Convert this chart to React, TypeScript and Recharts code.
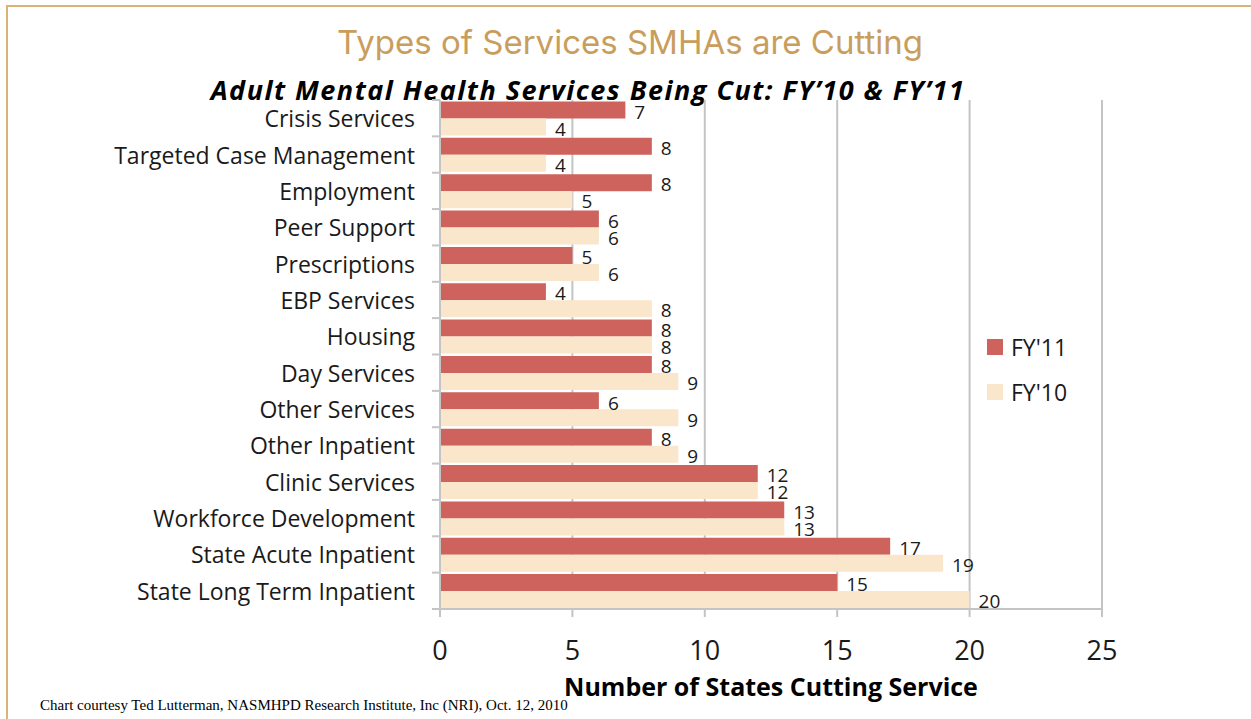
import { BarChart, Bar, XAxis, YAxis, CartesianGrid, LabelList } from 'recharts';

// Adult mental health services being cut, FY'10 vs FY'11 (number of states).
const services = [
  'Crisis Services', 'Targeted Case Management', 'Employment', 'Peer Support', 'Prescriptions',
  'EBP Services', 'Housing', 'Day Services', 'Other Services', 'Other Inpatient',
  'Clinic Services', 'Workforce Development', 'State Acute Inpatient', 'State Long Term Inpatient',
];
const fy11 = [7, 8, 8, 6, 5, 4, 8, 8, 6, 8, 12, 13, 17, 15];
const fy10 = [4, 4, 5, 6, 6, 8, 8, 9, 9, 9, 12, 13, 19, 20];
const xTicks = [0, 5, 10, 15, 20, 25];

const C = { red: '#cd635c', cream: '#f9e6cb', grid: '#c4c4c4', ink: '#1a1a1a', tan: '#c99d5c', frame: '#dcb27a' };
const SANS = "'Open Sans', 'Noto Sans', sans-serif";

const rows = services.map((name, i) => ({ name, fy11: fy11[i], fy10: fy10[i] }));

const MARGIN = 25;

function CatTick(props: any) {
  const { x, y, payload, index } = props;
  const half = payload?.offset ?? 18;
  const ax = x + MARGIN;
  return (
    <g>
      <text x={x} y={y} textAnchor="end" dominantBaseline="central" fill={C.ink} fontSize={23} fontFamily={SANS}>
        {payload.value}
      </text>
      <line x1={ax - 8} x2={ax} y1={y + half} y2={y + half} stroke={C.grid} strokeWidth={2} />
      {index === 0 && <line x1={ax - 8} x2={ax} y1={y - half} y2={y - half} stroke={C.grid} strokeWidth={2} />}
    </g>
  );
}

export default function App() {
  return (
    <div style={{ position: 'absolute', left: 0, top: 0, width: 1251, height: 719, background: '#fff', overflow: 'hidden' }}>
      <div style={{ position: 'absolute', left: 6, top: 5, right: -10, bottom: -10, borderTop: `2px solid ${C.frame}`, borderLeft: `2px solid ${C.frame}` }} />
      <div style={{ position: 'absolute', left: 0, width: 1260, top: 22, textAlign: 'center', fontFamily: "Inter, 'Open Sans', sans-serif", fontSize: 33, color: C.tan }}>
        Types of Services SMHAs are Cutting
      </div>
      <div style={{ position: 'absolute', left: 0, width: 1176, top: 71, textAlign: 'center', fontFamily: SANS, fontSize: 27, fontWeight: 700, fontStyle: 'italic', letterSpacing: 1.5, color: '#000' }}>
        Adult Mental Health Services Being Cut: FY’10 &amp; FY’11
      </div>
      <div style={{ position: 'absolute', left: 0, top: 0 }}>
        <BarChart width={1251} height={719} data={rows} layout="vertical" barGap={0} barCategoryGap="4%"
          margin={{ top: 100, right: 149, bottom: 20, left: 0 }}>
          <CartesianGrid horizontal={false} stroke={C.grid} strokeWidth={2} />
          <XAxis type="number" domain={[0, 25]} ticks={xTicks} interval={0} height={90}
            axisLine={{ stroke: C.grid, strokeWidth: 2 }} tickLine={{ stroke: C.grid, strokeWidth: 2 }} tickSize={8} tickMargin={24}
            tick={{ fill: C.ink, fontSize: 27, fontFamily: SANS }}
            label={{ value: 'Number of States Cutting Service', position: 'insideBottom', offset: 3, fill: '#000', fontSize: 25, fontWeight: 700, fontFamily: SANS }} />
          <YAxis type="category" dataKey="name" width={440} tickSize={0} tickMargin={MARGIN} interval={0}
            axisLine={{ stroke: C.grid, strokeWidth: 2 }} tickLine={false} tick={<CatTick />} />
          <Bar dataKey="fy11" fill={C.red} isAnimationActive={false}>
            <LabelList dataKey="fy11" position="right" offset={9} fill={C.ink} fontSize={19} fontFamily={SANS} dy={2} />
          </Bar>
          <Bar dataKey="fy10" fill={C.cream} isAnimationActive={false}>
            <LabelList dataKey="fy10" position="right" offset={9} fill={C.ink} fontSize={19} fontFamily={SANS} dy={2} />
          </Bar>
        </BarChart>
      </div>
      <div style={{ position: 'absolute', left: 987, top: 332, fontFamily: SANS, fontSize: 23, color: C.ink, lineHeight: '30px' }}>
        <div style={{ display: 'flex', alignItems: 'center', gap: 8 }}>
          <span style={{ width: 16, height: 16, background: C.red, display: 'inline-block' }} />FY'11
        </div>
        <div style={{ display: 'flex', alignItems: 'center', gap: 8, marginTop: 15 }}>
          <span style={{ width: 16, height: 16, background: C.cream, display: 'inline-block' }} />FY'10
        </div>
      </div>
      <div style={{ position: 'absolute', left: 40, top: 697, fontFamily: "'Liberation Serif', 'Times New Roman', serif", fontSize: 15, color: '#000' }}>
        Chart courtesy Ted Lutterman, NASMHPD Research Institute, Inc (NRI), Oct. 12, 2010
      </div>
    </div>
  );
}
